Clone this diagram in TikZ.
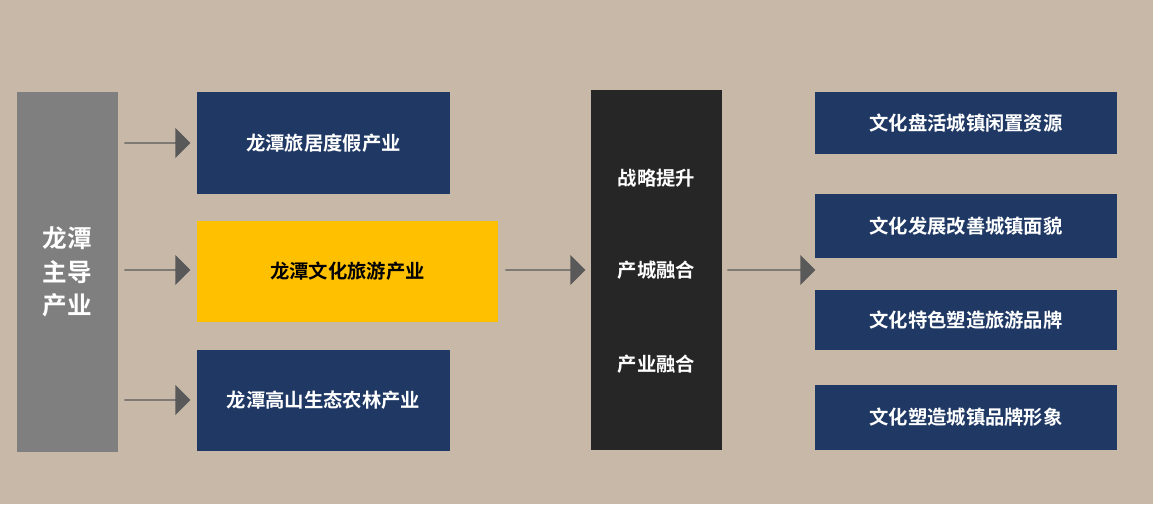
\documentclass[tikz,border=0pt]{standalone}
\usepackage{fontspec}
\setmainfont{Noto Sans CJK SC}[BoldFont={Noto Sans CJK SC Bold}]
\usetikzlibrary{shapes.arrows}
\definecolor{bgtan}{HTML}{C8B8A7}
\definecolor{navy}{HTML}{1F3864}
\definecolor{gold}{HTML}{FFC000}
\definecolor{coal}{HTML}{262626}
\definecolor{slate}{HTML}{595959}
\definecolor{stone}{HTML}{7F7F7F}
\tikzset{
  box/.style={rectangle, inner sep=0pt, font=\bfseries\fontsize{11}{13}\selectfont, text=white, align=center},
  navybox/.style={box, fill=navy},
  bigarrow/.style={single arrow, fill=slate, inner sep=0pt, minimum width=0.6cm,
    single arrow head extend=0.18cm, single arrow head indent=0cm}
}
\begin{document}
\begin{tikzpicture}[x=0.02cm, y=-0.02cm]
  \fill[bgtan] (0,0) rectangle (1153,504);
  % left column
  \node[box, fill=stone, minimum width=2.02cm, minimum height=7.2cm,
        font=\bfseries\fontsize{14}{19}\selectfont] (lead) at (67.5,272) {龙潭\\主导\\产业};
  \node[navybox, minimum width=5.06cm, minimum height=2.04cm] (stay) at (323.5,143) {龙潭旅居度假产业};
  \node[box, fill=gold, text=black, minimum width=6.02cm, minimum height=2.02cm] (tour) at (347.5,271.5) {龙潭文化旅游产业};
  \node[navybox, minimum width=5.06cm, minimum height=2.02cm] (farm) at (323.5,400.5) {龙潭高山生态农林产业};
  \node[bigarrow, minimum height=1.32cm] (a1) at (157,143) {};
  \node[bigarrow, minimum height=1.32cm] (a2) at (157,270) {};
  \node[bigarrow, minimum height=1.32cm] (a3) at (157,400) {};
  % middle column
  \node[box, fill=coal, minimum width=2.62cm, minimum height=7.2cm] (core) at (656.5,270) {};
  \node[box] (s1) at (656.5,178) {战略提升};
  \node[box] (s2) at (656.5,270) {产城融合};
  \node[box] (s3) at (656.5,364) {产业融合};
  \node[bigarrow, minimum height=1.6cm] (a4) at (545,270) {};
  \node[bigarrow, minimum height=1.76cm] (a5) at (771,270) {};
  % right column
  \node[navybox, minimum width=6.04cm, minimum height=1.24cm] (r1) at (966,123) {文化盘活城镇闲置资源};
  \node[navybox, minimum width=6.04cm, minimum height=1.28cm] (r2) at (966,226) {文化发展改善城镇面貌};
  \node[navybox, minimum width=6.04cm, minimum height=1.2cm] (r3) at (966,320) {文化特色塑造旅游品牌};
  \node[navybox, minimum width=6.04cm, minimum height=1.3cm] (r4) at (966,417.5) {文化塑造城镇品牌形象};
\end{tikzpicture}
\end{document}
